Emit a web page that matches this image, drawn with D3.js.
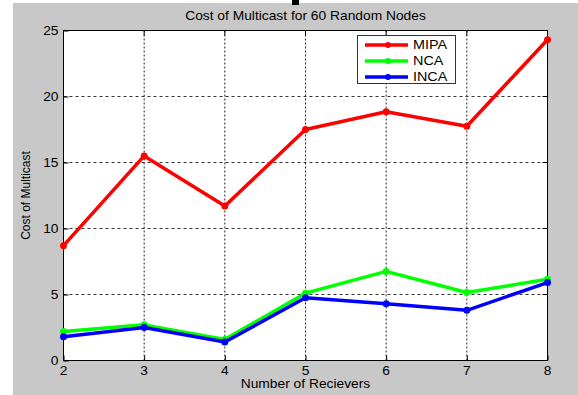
<!DOCTYPE html>
<html><head><meta charset="utf-8">
<script src="https://cdn.jsdelivr.net/npm/d3@7"></script>
<style>body{margin:0;background:#fff}svg{display:block}text{font-family:Arial,"Liberation Sans",sans-serif}</style>
</head><body>
<svg id="c" width="578" height="395"></svg>
<script>
const categories = [2, 3, 4, 5, 6, 7, 8];
const mipa = [8.7, 15.5, 11.7, 17.5, 18.85, 17.75, 24.3];
const nca  = [2.2, 2.7, 1.6, 5.1, 6.75, 5.15, 6.15];
const inca = [1.8, 2.5, 1.4, 4.75, 4.3, 3.8, 5.9];
const yTicks = [0, 5, 10, 15, 20, 25];
const seriesNames = ["MIPA", "NCA", "INCA"];
const seriesColors = ["#ff0000", "#00ff00", "#0000ff"];

const SX = 1.15; // horizontal stretch of the reference text
const svg = d3.select("#c");
svg.append("rect").attr("x",13).attr("y",3).attr("width",565).attr("height",392).attr("fill","#c8c8c8");
svg.append("rect").attr("x",292).attr("y",0).attr("width",7).attr("height",5).attr("fill","#000");

const L=63.5, R=547.5, T=30.5, B=360.5;
const x = d3.scaleLinear().domain([2,8]).range([L,R]);
const y = d3.scaleLinear().domain([0,25]).range([B,T]);

function txt(px, py, s, anchor, size, dy){
  return svg.append("text").attr("transform",`translate(${px},${py}) scale(${SX},1)`)
    .attr("text-anchor",anchor).attr("font-size",size).attr("dy",dy||"0.35em").attr("fill","#000").text(s);
}

svg.append("rect").attr("x",L).attr("y",T).attr("width",R-L).attr("height",B-T).attr("fill","#fff");

const g = svg.append("g");
g.selectAll(".vg").data(categories.slice(1,-1)).join("line")
  .attr("x1",d=>x(d)).attr("x2",d=>x(d)).attr("y1",T).attr("y2",B)
  .attr("stroke","#222").attr("stroke-width",1).attr("stroke-dasharray","2,2");
g.selectAll(".hg").data(yTicks.slice(1,-1)).join("line")
  .attr("x1",L).attr("x2",R).attr("y1",d=>y(d)).attr("y2",d=>y(d))
  .attr("stroke","#333").attr("stroke-width",1).attr("stroke-dasharray","3,3");

// axes (ticks from d3 axes, labels stretched)
const xAxis = d3.axisBottom(x).tickValues(categories).tickSizeInner(-5).tickSizeOuter(0).tickFormat("");
const yAxis = d3.axisLeft(y).tickValues(yTicks).tickSizeInner(-5).tickSizeOuter(0).tickFormat("");
const xa = svg.append("g").attr("transform",`translate(0,${B})`).call(xAxis);
const ya = svg.append("g").attr("transform",`translate(${L},0)`).call(yAxis);
[xa,ya].forEach(a=>{a.select(".domain").remove();a.selectAll("line").attr("stroke","#000");});
categories.forEach(c=>txt(x(c), 371, d3.format("d")(c), "middle", 12));
yTicks.forEach(t=>txt(L-5, y(t), d3.format("d")(t), "end", 12));

svg.append("g").selectAll("line").data(categories).join("line")
  .attr("x1",d=>x(d)).attr("x2",d=>x(d)).attr("y1",T).attr("y2",T+5).attr("stroke","#000");
svg.append("g").selectAll("line").data(yTicks).join("line")
  .attr("x1",R).attr("x2",R-5).attr("y1",d=>y(d)).attr("y2",d=>y(d)).attr("stroke","#000");
svg.append("rect").attr("x",L).attr("y",T).attr("width",R-L).attr("height",B-T).attr("fill","none").attr("stroke","#000").attr("stroke-width",1);

const all = [mipa, nca, inca];
const line = d3.line().x((d,i)=>x(categories[i])).y(d=>y(d));
all.forEach((s,k)=>{
  svg.append("path").datum(s).attr("d",line).attr("fill","none")
    .attr("stroke",seriesColors[k]).attr("stroke-width",3.5).attr("stroke-linejoin","round");
  svg.append("g").selectAll("circle").data(s).join("circle")
    .attr("cx",(d,i)=>x(categories[i])).attr("cy",d=>y(d)).attr("r",3.5).attr("fill",seriesColors[k]);
});

txt((L+R)/2, 16, "Cost of Multicast for 60 Random Nodes", "middle", 12);
txt((L+R)/2, 384, "Number of Recievers", "middle", 12);
svg.append("text").attr("transform",`translate(26,${(T+B)/2}) rotate(-90)`).attr("text-anchor","middle")
  .attr("dy","0.35em").attr("font-size",12).text("Cost of Multicast");

const lg = svg.append("g");
lg.append("rect").attr("x",357.5).attr("y",35.5).attr("width",98).attr("height",48).attr("fill","#fff").attr("stroke","#333");
seriesNames.forEach((n,k)=>{
  const yy = 45 + k*16;
  lg.append("line").attr("x1",365).attr("x2",408).attr("y1",yy).attr("y2",yy).attr("stroke",seriesColors[k]).attr("stroke-width",3.5);
  lg.append("circle").attr("cx",388).attr("cy",yy).attr("r",3).attr("fill",seriesColors[k]);
  txt(413, yy, n, "start", 12.5);
});
</script>
</body></html>
